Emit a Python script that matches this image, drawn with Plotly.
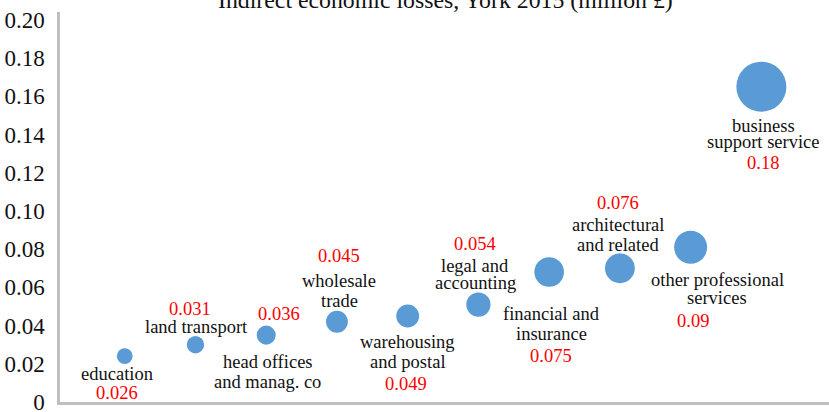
import plotly.graph_objects as go

# ---- data ----
sectors = ["education", "land transport", "head offices<br>and manag. co",
           "wholesale<br>trade", "warehousing<br>and postal", "legal and<br>accounting",
           "financial and<br>insurance", "architectural<br>and related",
           "other professional<br>services", "business<br>support service"]
x_pos = [1, 2, 3, 4, 5, 6, 7, 8, 9, 10]
y_values = [0.024, 0.030, 0.035, 0.042, 0.045, 0.051, 0.068, 0.070, 0.081, 0.165]
bubble_values = [0.026, 0.031, 0.036, 0.045, 0.049, 0.054, 0.075, 0.076, 0.09, 0.18]
value_labels = ["0.026", "0.031", "0.036", "0.045", "0.049", "0.054", "0.075", "0.076", "0.09", "0.18"]
y_tickvals = [0, 0.02, 0.04, 0.06, 0.08, 0.10, 0.12, 0.14, 0.16, 0.18, 0.20]
y_ticktext = ["0", "0.02", "0.04", "0.06", "0.08", "0.10", "0.12", "0.14", "0.16", "0.18", "0.20"]
title_text = "Indirect economic losses, York 2015 (million £)"

# ---- label layout (pixel offsets from bubble centre; dy positive = down) ----
name_line_offsets = [
    [(-8, 18)],
    [(1, -18)],
    [(1.5, 27), (1.5, 46.5)],
    [(2.4, -40.5), (2.4, -20.3)],
    [(0, 25.7), (0, 46.3)],
    [(-3, -38.6), (-3, -22)],
    [(2.5, 42), (2.5, 62)],
    [(-2, -43.7), (-2, -23.7)],
    [(26.7, 32.3), (26.7, 50.6)],
    [(1.8, 39), (1.8, 55.7)],
]
value_offsets = [(-7.3, 37), (-5.2, -35.7), (13.2, -21.4), (1.9, -65.3), (-2, 68.3),
                 (-3, -61), (2.2, 83.7), (-1.7, -65.4), (2.7, 73.3), (1.3, 76.7)]

FONT = "Liberation Serif, Times New Roman, Times, serif"
sizes = [140 * v ** 0.6 for v in bubble_values]

fig = go.Figure()
fig.add_trace(go.Scatter(
    x=x_pos, y=y_values, mode="markers",
    marker=dict(size=sizes, sizemode="diameter", color="#5B9BD5",
                line=dict(width=0), opacity=1),
    hoverinfo="skip", showlegend=False, cliponaxis=False,
))

annotations = []
for i, (xv, yv) in enumerate(zip(x_pos, y_values)):
    lines = sectors[i].split("<br>")
    for line, (dx, dy) in zip(lines, name_line_offsets[i]):
        annotations.append(dict(x=xv, y=yv, xref="x", yref="y", text=line,
                                showarrow=False, xshift=dx, yshift=-dy,
                                xanchor="center", yanchor="middle",
                                font=dict(family=FONT, size=18.5, color="#111111")))
    dx, dy = value_offsets[i]
    annotations.append(dict(x=xv, y=yv, xref="x", yref="y", text=value_labels[i],
                            showarrow=False, xshift=dx, yshift=-dy,
                            xanchor="center", yanchor="middle",
                            font=dict(family=FONT, size=18.5, color="#FF0000")))

annotations.append(dict(x=0.5007, y=1.030, xref="paper", yref="paper", text=title_text,
                        showarrow=False, xanchor="center", yanchor="middle",
                        font=dict(family=FONT, size=23.8, color="#111111")))

fig.update_layout(
    width=829, height=412,
    margin=dict(l=60, r=0, t=12, b=10, autoexpand=False),
    paper_bgcolor="white", plot_bgcolor="white",
    annotations=annotations,
    xaxis=dict(range=[0.085, 10.956], showgrid=False, zeroline=False,
               showticklabels=False, ticks="", showline=True, automargin=False,
               linecolor="#BFBFBF", linewidth=2.5),
    yaxis=dict(range=[0, 0.2041], showgrid=False, zeroline=False, automargin=False,
               tickvals=y_tickvals, ticktext=y_ticktext, ticklabeloverflow="allow",
               ticks="outside", ticklen=8, tickcolor="rgba(0,0,0,0)",
               tickfont=dict(family=FONT, size=23, color="#111111"),
               showline=True, linecolor="#BFBFBF", linewidth=2.5),
)

fig.write_html("out.html", config={"displayModeBar": False},
               post_script="document.body.style.margin='0';document.body.style.overflow='hidden';")
